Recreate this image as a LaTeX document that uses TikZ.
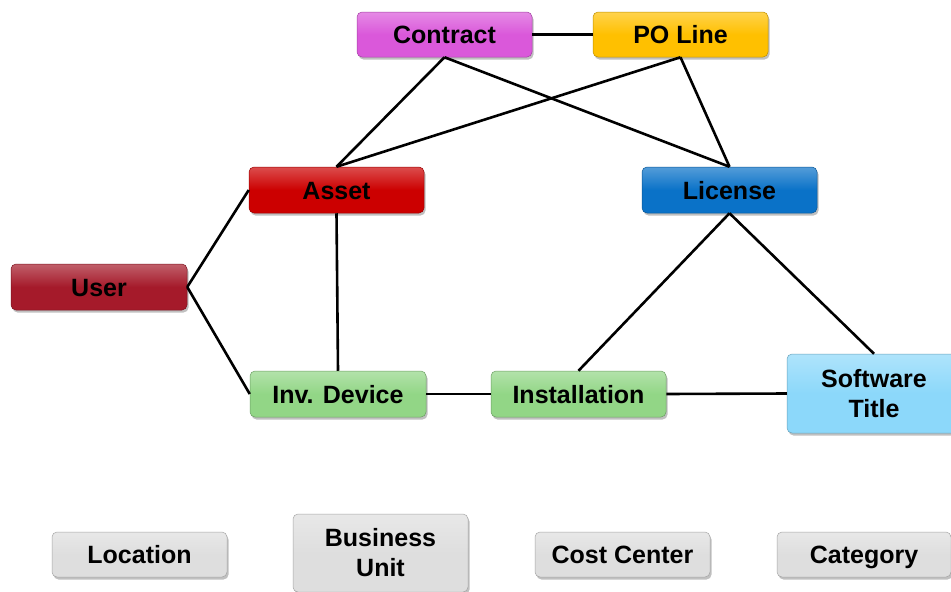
\documentclass[tikz,border=0pt]{standalone}
\usepackage{fontspec}
\setmainfont{Liberation Sans}
\usetikzlibrary{shadows}
\definecolor{cContract}{RGB}{218,88,218}
\definecolor{cPO}{RGB}{255,192,0}
\definecolor{cAsset}{RGB}{204,0,0}
\definecolor{cLicense}{RGB}{10,114,200}
\definecolor{cUser}{RGB}{165,26,42}
\definecolor{cGreen}{RGB}{146,214,134}
\definecolor{cSoft}{RGB}{140,216,250}
\definecolor{cGray}{RGB}{222,222,222}
\tikzset{
  box/.style={rounded corners=5pt, minimum width=175pt, minimum height=45pt,
    inner sep=0pt, align=center,
    font=\fontsize{25}{30}\selectfont\bfseries,
    drop shadow={shadow xshift=1.5pt, shadow yshift=-2.5pt, opacity=0.35, fill=black!70},
    draw=#1!75!black, line width=0.5pt,
    top color=#1!70!white, bottom color=#1, middle color=#1},
  one/.style={text height=18pt, text depth=0pt},
  link/.style={line width=2.6pt, black},
}
\begin{document}
\begin{tikzpicture}[x=1pt,y=-1pt]
\useasboundingbox (0,0) rectangle (951,592);
\fill[white] (0,0) rectangle (951,592);
% nodes
\node[box=cContract, one] (contract) at (444.5,34.5) {Contract};
\node[box=cPO, one] (po) at (680.5,34.5) {PO Line};
\node[box=cAsset, one, minimum height=46pt] (asset) at (336.5,190) {Asset};
\node[box=cLicense, one, minimum height=46pt] (license) at (729.5,190) {License};
\node[box=cUser, one, minimum width=176pt, minimum height=46pt] (user) at (99,287) {User};
\node[box=cGreen, one, minimum width=176pt, minimum height=46pt] (inv) at (338,394) {Inv. Device};
\node[box=cGreen, one, minimum height=46pt] (inst) at (578.5,394) {Installation};
\node[box=cSoft, minimum width=174pt, minimum height=79pt] (soft) at (874,393.5) {Software\\Title};
\node[box=cGray, one] (loc) at (139.5,554.5) {Location};
\node[box=cGray, minimum height=78pt] (bu) at (380.5,553) {Business\\Unit};
\node[box=cGray, one] (cc) at (622.5,554.5) {Cost Center};
\node[box=cGray, one, minimum width=174pt] (cat) at (864,554.5) {Category};
% links
\draw[link] (contract.east) -- (po.west);
\draw[link] (contract.south) -- (asset.north);
\draw[link] (contract.south) -- (license.north);
\draw[link] (po.south) -- (asset.north);
\draw[link] (po.south) -- (license.north);
\draw[link] (user.east) -- (asset.west);
\draw[link] (user.east) -- (inv.west);
\draw[link] (asset.south) -- (inv.north);
\draw[link] (inv.east) -- (inst.west);
\draw[link] (inst.east) -- (soft.west);
\draw[link] (license.south) -- (inst.north);
\draw[link] (license.south) -- (soft.north);
\end{tikzpicture}
\end{document}
